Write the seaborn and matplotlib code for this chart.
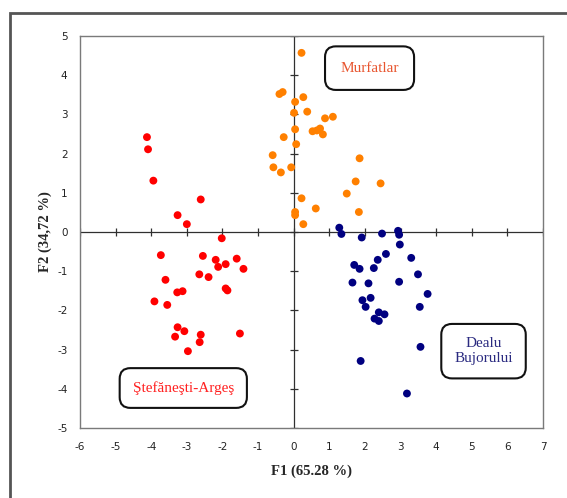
import numpy as np
import pandas as pd
import seaborn as sns
import matplotlib.pyplot as plt
from matplotlib.patches import Rectangle

# PCA scores
murfatlar_f1 = [0.22, -0.40, -0.31, 0.04, 0.27, 0.01, 0.38, 0.88, 1.10, 0.04,
                0.53, 0.65, 0.74, 0.82, -0.28, 0.07, -0.59, -0.57, -0.36, -0.07,
                1.85, 1.74, 2.44, 1.49, 0.22, 0.62, 1.83, 0.04, 0.04, 0.27]
murfatlar_f2 = [4.57, 3.52, 3.57, 3.32, 3.44, 3.04, 3.07, 2.90, 2.94, 2.62,
                2.57, 2.59, 2.64, 2.49, 2.42, 2.24, 1.96, 1.65, 1.52, 1.65,
                1.88, 1.29, 1.24, 0.98, 0.86, 0.60, 0.51, 0.51, 0.43, 0.20]

stefanesti_f1 = [-4.12, -4.09, -3.94, -2.61, -3.26, -3.00, -2.02, -3.73, -2.55, -2.19,
                 -1.60, -1.91, -2.12, -1.41, -2.65, -2.39, -3.60, -1.91, -1.86, -3.27,
                 -3.12, -3.91, -3.55, -3.26, -3.07, -3.33, -2.61, -1.51, -2.64, -2.97]
stefanesti_f2 = [2.42, 2.11, 1.31, 0.83, 0.43, 0.20, -0.16, -0.59, -0.61, -0.71,
                 -0.68, -0.82, -0.89, -0.94, -1.08, -1.15, -1.22, -1.44, -1.49, -1.54,
                 -1.51, -1.77, -1.86, -2.43, -2.53, -2.67, -2.62, -2.59, -2.81, -3.04]

dealu_f1 = [1.28, 1.34, 1.91, 2.48, 2.93, 2.96, 2.98, 2.59, 3.30, 2.36,
            1.70, 1.85, 2.25, 3.49, 1.65, 2.10, 2.96, 3.76, 2.16, 1.93,
            2.02, 3.54, 2.39, 2.55, 2.27, 2.39, 3.56, 1.88, 3.18]
dealu_f2 = [0.11, -0.05, -0.14, -0.04, 0.03, -0.07, -0.32, -0.56, -0.66, -0.71,
            -0.84, -0.94, -0.92, -1.08, -1.29, -1.31, -1.27, -1.58, -1.68, -1.74,
            -1.91, -1.91, -2.05, -2.10, -2.21, -2.27, -2.93, -3.29, -4.12]

groups = ["Murfatlar", "Ştefăneşti-Argeş", "Dealu Bujorului"]
colors = {"Murfatlar": "#FF8000", "Ştefăneşti-Argeş": "#FF0000", "Dealu Bujorului": "#000080"}

df = pd.DataFrame({
    "F1": murfatlar_f1 + stefanesti_f1 + dealu_f1,
    "F2": murfatlar_f2 + stefanesti_f2 + dealu_f2,
    "group": [groups[0]] * len(murfatlar_f1) + [groups[1]] * len(stefanesti_f1)
             + [groups[2]] * len(dealu_f1),
})

xticks = list(range(-6, 8))
yticks = list(range(-5, 6))

sns.set_style("white")
plt.rcParams["axes.unicode_minus"] = False
fig = plt.figure(figsize=(5.67, 4.98), dpi=100)
ax = fig.add_axes([80 / 567, 1 - 428 / 498, 463 / 567, 392 / 498])

# zero axes with cross ticks
ax.axhline(0, color="#303030", lw=0.9, zorder=1)
ax.axvline(0, color="#303030", lw=0.9, zorder=1)
ax.scatter(xticks, np.zeros(len(xticks)), marker="|", s=40, color="#303030", lw=0.9, zorder=1)
ax.scatter(np.zeros(len(yticks)), yticks, marker="_", s=40, color="#303030", lw=0.9, zorder=1)

sns.scatterplot(data=df, x="F1", y="F2", hue="group", palette=colors,
                s=32, linewidth=0, legend=False, ax=ax, zorder=3)

ax.set_xlim(-6, 7)
ax.set_ylim(-5, 5)
ax.set_xticks(xticks)
ax.set_yticks(yticks)
ax.tick_params(length=0, labelsize=7.5, colors="#222222")
ax.tick_params(axis="x", pad=10)
ax.tick_params(axis="y", pad=9)
for sp in ax.spines.values():
    sp.set_color("#7a7a7a")
    sp.set_linewidth(1.0)

ax.set_xlabel("F1 (65.28 %)", family="Liberation Serif", fontweight="bold", fontsize=10.5, labelpad=9)
ax.set_ylabel("F2 (34,72 %)", family="Liberation Serif", fontweight="bold", fontsize=10.5, labelpad=4)

box = dict(boxstyle="round,pad=1.0,rounding_size=0.7", fc="white", ec="#111111", lw=1.5)
ax.text(2.13, 4.18, "Murfatlar", color="#E8552F", family="Liberation Serif", fontsize=11,
        ha="center", va="center", bbox=box, zorder=5)
ax.text(5.33, -3.04, "Dealu\nBujorului", color="#2A2A80", family="Liberation Serif", fontsize=11,
        ha="center", va="center", linespacing=1.25,
        bbox=dict(box, boxstyle="round,pad=0.85,rounding_size=0.7"), zorder=5)
ax.text(-3.1, -3.98, "Ştefăneşti-Argeş", color="#FF2020", family="Liberation Serif", fontsize=11,
        ha="center", va="center", bbox=dict(box, boxstyle="round,pad=0.85,rounding_size=0.7"), zorder=5)

# outer chart frame (left and top edges visible)
fig.add_artist(Rectangle((10 / 567, -0.2), 1.0, 1.2 - 13 / 498, transform=fig.transFigure,
                         fill=False, ec="#555555", lw=2.0))

fig.savefig("out.png", dpi=100)
